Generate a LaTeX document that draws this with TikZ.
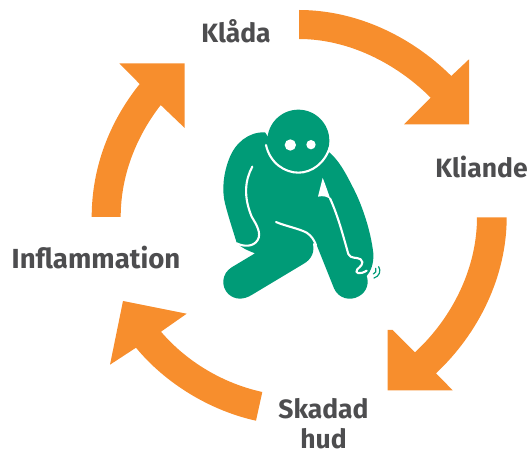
\documentclass[tikz,border=0pt]{standalone}
\usepackage{fontspec}
\setmainfont{Fira Sans}
\definecolor{arrowor}{HTML}{F78E2D}
\definecolor{figgreen}{HTML}{009B77}
\definecolor{labelgray}{HTML}{4D4D4F}
\tikzset{
  cyclearrow/.style={fill=arrowor,draw=none},
  lab/.style={text=labelgray,font=\fontsize{26.5}{30}\selectfont\bfseries,anchor=base,inner sep=0pt,align=center},
  figbody/.style={fill=figgreen,draw=none},
  figline/.style={draw=white,line width=2.1pt,line cap=round,line join=round,fill=none}
}
\begin{document}
\begin{tikzpicture}[x=1pt,y=-1pt]
\useasboundingbox (0,0) rectangle (531,454);
% arrows
\path[cyclearrow] (299,10) .. controls (356,10) and (411,36) .. (451.3,76) -- (469,59.3) -- (469,124.3) -- (404,124.3) -- (430.7,97.7) .. controls (396,63) and (348,39) .. (299,39) -- cycle;
\path[cyclearrow] (506.7,217.3) .. controls (506.7,276) and (479,333) .. (436,373.3) -- (452.7,390.3) -- (387.7,390.3) -- (387.7,330) -- (392.7,330) -- (415,352.3) .. controls (452.5,317.6) and (477,268) .. (477,217.3) -- cycle;
\path[cyclearrow] (256,420.7) .. controls (210.4,410.7) and (165.7,383.7) .. (136,347.7) -- (110,364.7) -- (123,301) -- (186.7,313.7) -- (161,331.7) .. controls (187,362) and (223.2,383.4) .. (262.3,392) -- cycle;
\path[cyclearrow] (91.7,217) .. controls (91.7,168) and (109.2,122) .. (139.7,84) -- (119.3,63.3) -- (184.7,63.3) -- (184.7,128) -- (160.7,105) .. controls (135.7,137.4) and (120.7,176) .. (120.7,217) -- cycle;
% labels
\node[lab] (klada) at (236,43) {Klåda};
\node[lab] (kliande) at (481.5,178) {Kliande};
\node[lab,font=\fontsize{27.6}{30}\selectfont\bfseries] (inflam) at (96,269) {Inflammation};
\node[lab] (skadad) at (323.5,419) {Skadad};
\node[lab] (hud) at (323.5,449) {hud};
% figure, in zoom coordinates
\begin{scope}[shift={(210pt,-100pt)},x=0.33333pt,y=-0.33333pt]
\path[figbody] (165,97) .. controls (115,95) and (75,130) .. (58,175)
  .. controls (40,220) and (35,270) .. (45,310)
  .. controls (55,350) and (70,395) .. (80,428)
  .. controls (95,445) and (115,452) .. (135,460)
  -- (65,502) .. controls (35,520) and (32,560) .. (55,582)
  .. controls (75,600) and (100,600) .. (125,585)
  -- (280,492) .. controls (305,478) and (315,455) .. (308,430)
  -- (318,430) -- (372,565)
  .. controls (385,595) and (420,605) .. (448,588)
  .. controls (470,575) and (478,550) .. (470,528)
  .. controls (482,515) and (492,490) .. (490,460)
  .. controls (482,390) and (455,310) .. (425,255)
  .. controls (405,215) and (385,180) .. (358,157)
  -- (300,180) -- (200,150) -- cycle;
\fill[figgreen] (265,122) circle (93);
\draw[figline] (168,135) .. controls (180,190) and (225,218) .. (265,218) .. controls (305,218) and (345,190) .. (360,140);
\fill[white] (241,135) circle (17);
\fill[white] (303,134) circle (14);
% left arm line
\draw[figline] (127,200) .. controls (105,240) and (100,290) .. (125,350) .. controls (140,375) and (155,400) .. (143,420) .. controls (130,442) and (100,440) .. (80,430);
% thigh line
\draw[figline] (198,366) .. controls (225,378) and (265,385) .. (290,398) .. controls (305,408) and (312,420) .. (318,435);
% right arm line
\path[fill=white] (338,234) -- (324,290) .. controls (340,286) and (355,290) .. (362,300) .. controls (355,280) and (345,250) .. (338,234) -- cycle;
\draw[figline] (360,295) .. controls (385,350) and (400,410) .. (415,462) .. controls (422,478) and (440,470) .. (452,478) .. controls (465,490) and (450,500) .. (442,508) .. controls (432,520) and (450,525) .. (470,512);
% tremble marks
\draw[figgreen,line width=1.2pt,line cap=round] (497,505) .. controls (500,512) and (498,520) .. (490,522);
\draw[figgreen,line width=1.2pt,line cap=round] (506,500) .. controls (514,512) and (508,530) .. (492,534);
\end{scope}
\end{tikzpicture}
\end{document}
